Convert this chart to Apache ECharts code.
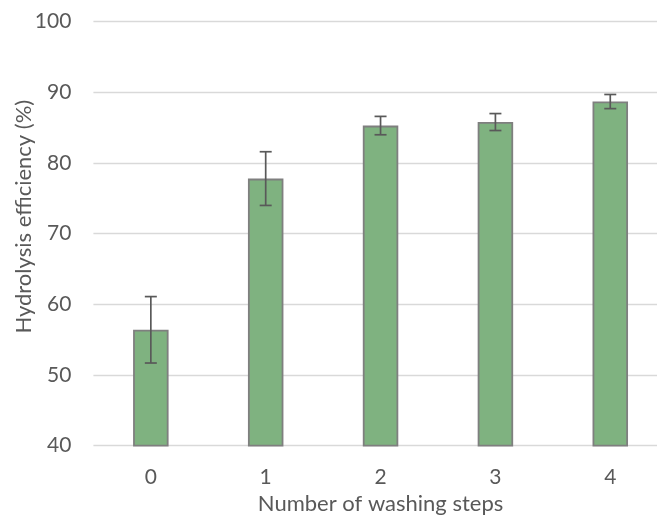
<!DOCTYPE html>
<html>
<head>
<meta charset="utf-8">
<script src="https://cdn.jsdelivr.net/npm/echarts@6/dist/echarts.min.js"></script>
<style>
  html, body { margin: 0; padding: 0; background: #ffffff; }
  #chart { width: 657px; height: 516px; }
</style>
</head>
<body>
<div id="chart"></div>
<script>
// Washing steps on the category axis
const washingSteps = ['0', '1', '2', '3', '4'];
// Mean hydrolysis efficiency (%) per washing step
const efficiency = [56.4, 77.8, 85.3, 85.8, 88.7];
// Standard deviation (±) for each mean
const errors = [4.7, 3.8, 1.3, 1.2, 1.0];
// Value axis range and step
const yMin = 40, yMax = 100, yStep = 10;

const textColor = '#595959';
const fontFamily = 'Lato, "Noto Sans", sans-serif';

const chart = echarts.init(document.getElementById('chart'), null, { renderer: 'canvas' });

const errorData = efficiency.map((v, i) => [i, v - errors[i], v + errors[i]]);

chart.setOption({
  animation: false,
  backgroundColor: '#ffffff',
  // plot area runs past the right edge of the canvas
  grid: {
    left: 93.4, top: 21.7, width: 574.3, height: 424,
    containLabel: false, outerBoundsMode: 'none'
  },
  xAxis: {
    type: 'category',
    data: washingSteps,
    name: 'Number of washing steps',
    nameLocation: 'middle',
    nameGap: 47,
    nameMoveOverlap: false,
    nameTextStyle: { color: textColor, fontSize: 22, fontFamily },
    axisLine: { show: false },
    axisTick: { show: false },
    axisLabel: { color: textColor, fontSize: 21, fontFamily, margin: 21 }
  },
  yAxis: {
    type: 'value',
    min: yMin,
    max: yMax,
    interval: yStep,
    name: 'Hydrolysis efficiency (%)',
    nameLocation: 'middle',
    nameGap: 58,
    nameMoveOverlap: false,
    nameTextStyle: { color: textColor, fontSize: 22, fontFamily, padding: [0, 0, 0, 34] },
    axisLine: { show: false },
    axisTick: { show: false },
    axisLabel: { color: textColor, fontSize: 21, fontFamily, margin: 22 },
    splitLine: { lineStyle: { color: '#d9d9d9', width: 1.3 } }
  },
  series: [
    {
      type: 'bar',
      data: efficiency,
      barWidth: 35.5,
      itemStyle: { color: '#7fb280', borderColor: '#7f7f7f', borderWidth: 1.8 },
      z: 2
    },
    {
      type: 'custom',
      data: errorData,
      z: 3,
      renderItem: function (params, api) {
        const i = api.value(0);
        const lo = api.coord([i, api.value(1)]);
        const hi = api.coord([i, api.value(2)]);
        const half = 6;
        const style = { stroke: '#595959', lineWidth: 1.7, fill: null };
        return {
          type: 'group',
          children: [
            { type: 'line', shape: { x1: hi[0], y1: hi[1], x2: lo[0], y2: lo[1] }, style },
            { type: 'line', shape: { x1: hi[0] - half, y1: hi[1], x2: hi[0] + half, y2: hi[1] }, style },
            { type: 'line', shape: { x1: lo[0] - half, y1: lo[1], x2: lo[0] + half, y2: lo[1] }, style }
          ]
        };
      }
    }
  ]
});
</script>
</body>
</html>
